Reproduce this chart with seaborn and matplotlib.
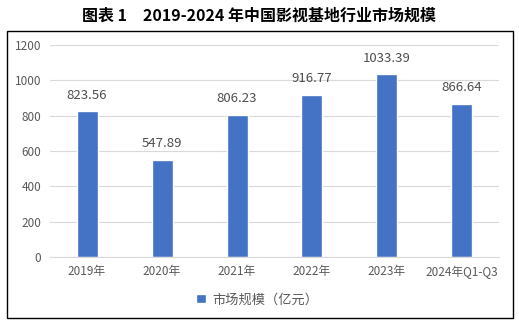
import matplotlib
matplotlib.use("Agg")
import matplotlib.pyplot as plt
import seaborn as sns
import pandas as pd
from matplotlib.patches import Rectangle

categories = ["2019年", "2020年", "2021年", "2022年", "2023年", "2024年Q1-Q3"]
values = [823.56, 547.89, 806.23, 916.77, 1033.39, 866.64]
yticks = [0, 200, 400, 600, 800, 1000, 1200]
series_name = "市场规模（亿元）"
title = "图表 1　2019-2024 年中国影视基地行业市场规模"

sns.set_theme(style="white")
plt.rcParams["font.family"] = ["Noto Sans CJK SC", "DejaVu Sans"]

df = pd.DataFrame({"year": categories, "value": values})

fig = plt.figure(figsize=(5.19, 3.26), dpi=100)
ax = fig.add_axes([0.0954, 0.2117, 0.867, 0.6503])

bar_color = "#4472C4"
sns.barplot(data=df, x="year", y="value", color=bar_color, width=0.28,
            saturation=1, ax=ax, label=series_name)

ax.set_ylim(0, 1200)
ax.set_xlim(-0.5, len(categories) - 0.5)
ax.set_yticks(yticks)
ax.set_yticklabels([str(t) for t in yticks])
ax.yaxis.grid(True, color="#D9D9D9", linewidth=0.8)
ax.set_axisbelow(True)
for s in ["top", "right", "left"]:
    ax.spines[s].set_visible(False)
ax.spines["bottom"].set_color("#D9D9D9")
ax.spines["bottom"].set_linewidth(0.8)
ax.tick_params(axis="both", length=0, colors="#595959", labelsize=8.5, pad=6)
ax.tick_params(axis="y", pad=6)
ax.set_xlabel("")
ax.set_ylabel("")

for i, v in enumerate(values):
    ax.annotate(f"{v:.2f}", (i, v), xytext=(0, 7), textcoords="offset points",
                ha="center", va="bottom", fontsize=9.5, color="#4D4D4D")

leg = ax.legend(loc="upper center", bbox_to_anchor=(0.462, -0.115), frameon=False,
                fontsize=9.5, handlelength=0.75, handleheight=0.75, handletextpad=0.45)
for t in leg.get_texts():
    t.set_color("#595959")

fig.patches.append(Rectangle((0.0135, 0.0245), 0.9745, 0.8805, transform=fig.transFigure,
                             fill=False, edgecolor="black", linewidth=1.0))

fig.text(0.5, 0.952, title, ha="center", va="center", fontsize=11.5,
         fontweight="bold", color="black")

fig.savefig("out.png", dpi=100, facecolor="white")
